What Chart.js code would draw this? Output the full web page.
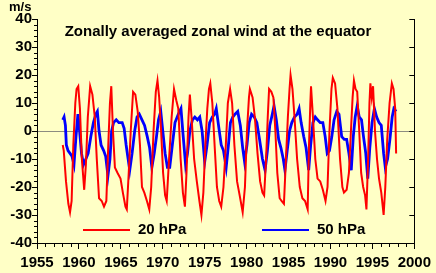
<!DOCTYPE html>
<html>
<head>
<meta charset="utf-8">
<script src="https://cdn.jsdelivr.net/npm/chart.js@4/dist/chart.umd.min.js"></script>
<style>
  html, body { margin: 0; padding: 0; background: #FFFFC6; }
  #wrap { width: 436px; height: 273px; position: relative; }
</style>
</head>
<body>
<div id="wrap"><canvas id="c" width="436" height="273"></canvas></div>
<script>
// ---- Data ----
const titleText = "Zonally averaged zonal wind at the equator";
const unitText = "m/s";
const seriesNames = ["20 hPa", "50 hPa"];
const xTickLabels = ["1955","1960","1965","1970","1975","1980","1985","1990","1995","2000"];
const yTickLabels = ["-40","-30","-20","-10","0","10","20","30","40"];

const years20 = [1958.07,1958.19,1958.46,1958.74,1958.94,1959.13,1959.33,1959.57,1959.72,1959.92,
  1960.12,1960.35,1960.63,1960.83,1961.06,1961.34,1961.61,1961.89,1962.13,1962.40,
  1962.72,1962.99,1963.27,1963.50,1963.70,1963.86,1964.06,1964.29,1964.61,1964.96,
  1965.24,1965.55,1965.71,1965.94,1966.18,1966.46,1966.73,1967.01,1967.28,1967.52,
  1967.80,1968.11,1968.39,1968.62,1968.90,1969.17,1969.37,1969.57,1969.80,1970.04,
  1970.28,1970.47,1970.75,1971.06,1971.34,1971.61,1971.85,1972.13,1972.40,1972.64,
  1972.83,1973.07,1973.23,1973.43,1973.74,1974.06,1974.37,1974.61,1974.84,1975.08,
  1975.31,1975.51,1975.67,1975.91,1976.18,1976.46,1976.73,1976.97,1977.24,1977.52,
  1977.76,1978.03,1978.27,1978.54,1978.86,1979.17,1979.53,1979.80,1980.04,1980.28,
  1980.39,1980.71,1980.98,1981.30,1981.61,1981.89,1982.09,1982.32,1982.52,1982.68,
  1982.95,1983.19,1983.43,1983.66,1983.94,1984.17,1984.45,1984.69,1984.92,1985.12,
  1985.24,1985.47,1985.71,1986.02,1986.34,1986.65,1986.97,1987.28,1987.44,1987.60,
  1987.68,1987.91,1988.19,1988.46,1988.78,1989.09,1989.41,1989.65,1989.88,1990.12,
  1990.28,1990.55,1990.83,1991.14,1991.42,1991.61,1991.93,1992.20,1992.44,1992.64,
  1992.80,1992.99,1993.19,1993.43,1993.66,1993.90,1994.13,1994.29,1994.49,1994.65,
  1994.76,1994.92,1995.08,1995.31,1995.55,1995.79,1996.06,1996.34,1996.54,1996.77,
  1997.05,1997.32,1997.52,1997.72,1997.83];
const wind20 = [-5,-7,-18,-26,-29,-25,-5,10,15,16,
  8,-10,-21,-12,5,16,13,5,-10,-24,
  -25,-27,-25,-5,10,16,0,-13,-15,-17,
  -22,-27,-28,-15,0,14,13,7,-5,-20,
  -22,-25,-28,-20,0,14,18,12,0,-15,
  -23,-25,-10,5,15,11,8,-10,-22,-27,
  -15,5,13,5,-10,-18,-25,-30,-22,-5,
  8,15,17,10,-5,-20,-25,-27,-20,-5,
  10,15,10,-5,-18,-23,-29,-20,0,12,
  15,12,5,-8,-18,-22,-23,-10,5,15,
  14,12,0,-15,-24,-25,-26,-10,5,15,
  20,15,5,-10,-20,-24,-25,-28,-5,10,
  16,5,-10,-17,-18,-21,-25,-20,0,15,
  19,17,8,-10,-20,-22,-21,-15,0,12,
  18,15,14,0,-15,-20,-23,-28,-10,10,
  17,12,16,0,-10,-17,-22,-30,-20,-3,
  10,17,15,8,-8];

const years50 = [1958.07,1958.23,1958.39,1958.50,1958.70,1958.94,1959.17,1959.41,1959.65,1959.88,
  1960.08,1960.31,1960.55,1960.83,1961.10,1961.42,1961.73,1962.01,1962.20,1962.40,
  1962.64,1962.95,1963.19,1963.46,1963.70,1963.90,1964.13,1964.45,1964.76,1965.16,
  1965.39,1965.63,1965.87,1966.06,1966.34,1966.65,1966.93,1967.20,1967.52,1967.83,
  1968.15,1968.43,1968.70,1968.98,1969.25,1969.49,1969.76,1970.00,1970.28,1970.55,
  1970.83,1971.14,1971.46,1971.85,1972.17,1972.44,1972.72,1972.95,1973.23,1973.54,
  1973.82,1974.13,1974.41,1974.69,1975.00,1975.28,1975.59,1975.91,1976.18,1976.38,
  1976.65,1976.97,1977.24,1977.56,1977.83,1978.07,1978.35,1978.62,1978.94,1979.25,
  1979.53,1979.76,1980.04,1980.31,1980.59,1980.91,1981.22,1981.54,1981.89,1982.20,
  1982.48,1982.76,1982.99,1983.27,1983.54,1983.82,1984.09,1984.37,1984.57,1984.84,
  1985.12,1985.39,1985.71,1986.02,1986.26,1986.50,1986.81,1987.09,1987.40,1987.64,
  1987.91,1988.19,1988.46,1988.78,1989.09,1989.37,1989.61,1989.88,1990.16,1990.43,
  1990.75,1991.02,1991.34,1991.65,1991.93,1992.20,1992.48,1992.72,1992.95,1993.19,
  1993.43,1993.70,1993.94,1994.21,1994.45,1994.69,1994.96,1995.24,1995.51,1995.79,
  1996.06,1996.34,1996.54,1996.81,1997.09,1997.36,1997.56,1997.83];
const wind50 = [4,5,2,-5,-7,-8,-9,-12,-2,6,
  0,-8,-12,-10,-8,-2,3,6,7,0,
  -5,-7,-9,-16,-10,0,3,4,3,3,
  1,-5,-10,-14,-8,0,5,6,4,2,
  -2,-6,-13,-8,-2,4,7,0,-8,-13,
  -13,-5,3,6,8,-2,-12,-8,0,4,
  5,4,5,0,-11,-5,3,5,6,8,
  2,-5,-7,-13,-5,3,5,6,7,2,
  -6,-11,-5,3,6,5,3,-3,-10,-14,
  -7,2,5,9,4,-3,-6,-10,-14,-7,
  0,3,5,6,8,3,-2,-6,-14,-5,
  3,5,4,3,3,-2,-8,-7,-2,4,
  7,6,-2,-3,-3,-8,-14,-2,5,9,
  5,4,-2,-8,-17,-6,3,8,5,3,
  2,-8,-13,-10,-3,5,8,7];

const bg = '#FFFFC6';
const FONT = '"Liberation Sans", Arial, sans-serif';

// ---- Plugins for decorations ----
const decor = {
  id: 'decor',
  beforeDraw(chart) {
    const c = chart.ctx;
    c.save();
    c.fillStyle = bg;
    c.fillRect(0, 0, chart.width, chart.height);
    c.restore();
  },
  afterDraw(chart) {
    const c = chart.ctx;
    const a = chart.chartArea;
    const xs = chart.scales.x, ys = chart.scales.y;
    c.save();
    c.strokeStyle = '#000';
    c.lineWidth = 1;
    // right border
    c.beginPath();
    c.moveTo(Math.round(a.right) + 0.5, a.top);
    c.lineTo(Math.round(a.right) + 0.5, a.bottom);
    c.stroke();
    // right inward major ticks
    for (let v = ys.min; v <= ys.max; v += 10) {
      const y = Math.round(ys.getPixelForValue(v)) + 0.5;
      c.beginPath(); c.moveTo(a.right - 5, y); c.lineTo(a.right, y); c.stroke();
    }
    // left minor ticks
    for (let v = ys.min; v <= ys.max; v += 2) {
      if (v % 10 === 0) continue;
      const y = Math.round(ys.getPixelForValue(v)) + 0.5;
      c.beginPath(); c.moveTo(a.left - 3, y); c.lineTo(a.left, y); c.stroke();
    }
    // bottom minor ticks
    for (let v = xs.min; v <= xs.max; v += 1) {
      if (v % 5 === 0) continue;
      const x = Math.round(xs.getPixelForValue(v)) + 0.5;
      c.beginPath(); c.moveTo(x, a.bottom); c.lineTo(x, a.bottom + 4); c.stroke();
    }
    // unit label
    c.fillStyle = '#000';
    c.font = 'bold 13px ' + FONT;
    c.textAlign = 'left';
    c.textBaseline = 'middle';
    c.fillText(unitText, 9, 7);
    // title
    c.font = 'bold 15px ' + FONT;
    c.textAlign = 'center';
    c.fillText(titleText, 218, 32);
    // legend
    const cols = ['#FF0000', '#0000FF'];
    const lx = [83, 262];
    c.font = 'bold 15px ' + FONT;
    c.textAlign = 'left';
    for (let i = 0; i < 2; i++) {
      c.strokeStyle = cols[i];
      c.lineWidth = 2;
      c.beginPath(); c.moveTo(lx[i], 230); c.lineTo(lx[i] + 47, 230); c.stroke();
      c.fillStyle = '#000';
      c.fillText(seriesNames[i], lx[i] + 55, 230);
    }
    c.restore();
  }
};

new Chart(document.getElementById('c'), {
  type: 'line',
  data: {
    datasets: [
      { label: seriesNames[0], data: years20.map((x, i) => ({ x, y: wind20[i] })),
        borderColor: '#FF0000', borderWidth: 2, pointRadius: 0, tension: 0, fill: false },
      { label: seriesNames[1], data: years50.map((x, i) => ({ x, y: wind50[i] })),
        borderColor: '#0000FF', borderWidth: 2.8, pointRadius: 0, tension: 0, fill: false }
    ]
  },
  options: {
    responsive: false,
    animation: false,
    layout: { padding: { top: 19, right: 18, left: 0, bottom: 0 } },
    plugins: { legend: { display: false }, tooltip: { enabled: false }, title: { display: false } },
    scales: {
      x: {
        type: 'linear', min: 1955, max: 2000,
        afterFit(s) { s.height = 30; },
        border: { display: true, color: '#000', width: 1 },
        grid: { drawOnChartArea: false, color: '#000', tickColor: '#000', tickLength: 6 },
        ticks: { stepSize: 5, padding: 5, color: '#000', font: { family: FONT, size: 15, weight: 'bold' },
          maxRotation: 0, autoSkip: false,
          callback: (v) => xTickLabels[xTickLabels.indexOf(String(v))] || '' }
      },
      y: {
        type: 'linear', min: -40, max: 40,
        afterFit(s) { s.width = 37; },
        border: { display: true, color: '#000', width: 1 },
        grid: { drawOnChartArea: true,
          color: (ctx) => (ctx.tick && ctx.tick.value === 0) ? '#8C8C80' : 'rgba(0,0,0,0)',
          tickColor: '#000', tickLength: 5 },
        ticks: { stepSize: 10, padding: 0, color: '#000', font: { family: FONT, size: 15, weight: 'bold' },
          callback: (v) => yTickLabels[yTickLabels.indexOf(String(v))] || '' }
      }
    }
  },
  plugins: [decor]
});
</script>
</body>
</html>
